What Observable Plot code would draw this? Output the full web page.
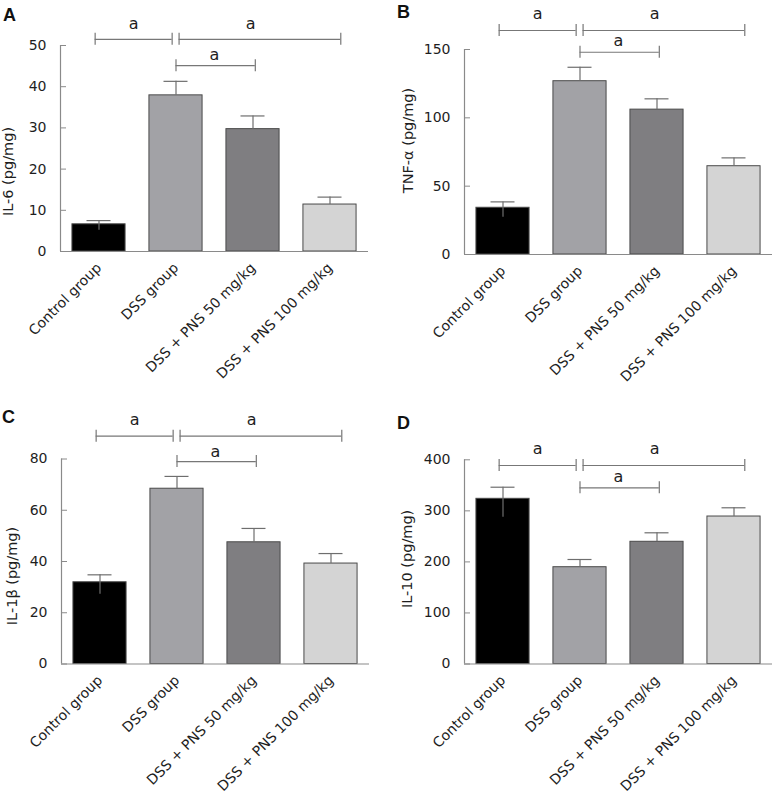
<!DOCTYPE html>
<html><head><meta charset="utf-8">
<script src="https://cdn.jsdelivr.net/npm/d3@7"></script>
<script src="https://cdn.jsdelivr.net/npm/@observablehq/plot@0.6"></script>
<style>
body{margin:0;background:#fff;}
#fig{position:relative;width:774px;height:798px;overflow:hidden;background:#fff;}
.panel{position:absolute;}
.letter{position:absolute;font-family:"Liberation Sans",Arial,sans-serif;font-weight:bold;font-size:18px;line-height:18px;color:#111;}
</style></head><body><div id="fig"></div>
<script>
const groups = ["Control group", "DSS group", "DSS + PNS 50 mg/kg", "DSS + PNS 100 mg/kg"];
const barColors = ["#000000", "#a2a2a6", "#7f7e81", "#d4d4d4"];

// IL-6
const il6Mean = [6.6, 37.9, 29.7, 11.4];
const il6Sem  = [0.9, 3.4, 3.2, 1.8];
const il6Ticks = [0, 10, 20, 30, 40, 50];
const il6BracketY = [51.5, 51.5, 45.1];
const il6MarkY = [55.3, 55.3, 47.7];

// TNF-alpha
const tnfMean = [34.2, 126.8, 106.0, 64.6];
const tnfSem  = [4.3, 10.2, 7.9, 6.1];
const tnfTicks = [0, 50, 100, 150];
const tnfBracketY = [163.9, 163.9, 148.0];
const tnfMarkY = [176.1, 176.1, 156.5];

// IL-1beta
const il1Mean = [31.9, 68.4, 47.5, 39.2];
const il1Sem  = [2.9, 4.8, 5.4, 3.9];
const il1Ticks = [0, 20, 40, 60, 80];
const il1BracketY = [88.9, 88.9, 79.0];
const il1MarkY = [95.4, 95.4, 82.7];

// IL-10
const il10Mean = [323.6, 189.6, 239.4, 288.9];
const il10Sem  = [22.7, 15.1, 17.6, 17.1];
const il10Ticks = [0, 100, 200, 300, 400];
const il10BracketY = [388.8, 388.8, 345.2];
const il10MarkY = [421.5, 421.5, 367.3];

// significance brackets (in group-index units) and their labels
const bracketFrom = [-0.05, 1.04, 1.0];
const bracketTo   = [0.95, 3.14, 2.03];
const bracketMarkX = [0.45, 1.97, 1.5];
const bracketMark = ["a", "a", "a"];

const panels = [
  {letter: "A", label: "IL-6 (pg/mg)", mean: il6Mean, sem: il6Sem, ticks: il6Ticks, by: il6BracketY, my: il6MarkY,
   left: 0, top: 0, height: 390, mt: 45, mb: 139, ml: 60, mr: 19, ldx: -52, ldy: 23, lx: 3, ly: 5.5},
  {letter: "B", label: "TNF-α (pg/mg)", mean: tnfMean, sem: tnfSem, ticks: tnfTicks, by: tnfBracketY, my: tnfMarkY,
   left: 387, top: 0, height: 390, mt: 49, mb: 136, ml: 77, mr: 2, ldx: -56.5, ldy: -11.5, lx: 397, ly: 3},
  {letter: "C", label: "IL-1β (pg/mg)", mean: il1Mean, sem: il1Sem, ticks: il1Ticks, by: il1BracketY, my: il1MarkY,
   left: 0, top: 390, height: 408, mt: 68.5, mb: 134.5, ml: 61, mr: 18, ldx: -49, ldy: 14.5, lx: 2, ly: 408},
  {letter: "D", label: "IL-10 (pg/mg)", mean: il10Mean, sem: il10Sem, ticks: il10Ticks, by: il10BracketY, my: il10MarkY,
   left: 387, top: 390, height: 408, mt: 69.3, mb: 134.5, ml: 77, mr: 2, ldx: -57, ldy: -3, lx: 397, ly: 414}
];

const fig = document.getElementById("fig");
const axisGray = "#8a8a8a";
const errGray = "#6e6e6e";

for (const p of panels) {
  const data = groups.map((g, i) => ({i, g, mean: p.mean[i], sem: p.sem[i], color: barColors[i]}));
  const brackets = bracketFrom.map((f, k) => ({x1: f, x2: bracketTo[k], y: p.by[k]}));
  const bracketEnds = brackets.flatMap(b => [{x: b.x1, y: b.y}, {x: b.x2, y: b.y}]);
  const marks = bracketMark.map((t, k) => ({t, x: bracketMarkX[k], y: p.my[k]}));
  const ymax = p.ticks[p.ticks.length - 1];

  const chart = Plot.plot({
    width: 387,
    height: p.height,
    marginLeft: p.ml, marginRight: p.mr, marginTop: p.mt, marginBottom: p.mb,
    x: {domain: [-0.5, 3.5]},
    y: {domain: [0, ymax]},
    color: {type: "identity"},
    style: {fontFamily: "'DejaVu Sans', Verdana, sans-serif", fontSize: "13px", color: "#1e1e1e", background: "white", overflow: "visible"},
    marks: [
      Plot.rectY(data, {x1: d => d.i - 0.345, x2: d => d.i + 0.345, y1: 0, y2: "mean", fill: "color", stroke: "#4a4a4a", strokeWidth: 1}),
      // lower half of the SEM line shows only inside the black control bar
      Plot.ruleX(data, {filter: d => d.i === 0, x: "i", y1: d => d.mean - d.sem * 1.6, y2: "mean", stroke: errGray, strokeWidth: 1.2}),
      Plot.ruleX(data, {x: "i", y1: "mean", y2: d => d.mean + d.sem, stroke: errGray, strokeWidth: 1.2}),
      Plot.ruleY(data, {y: d => d.mean + d.sem, x1: "i", x2: "i", insetLeft: -12, insetRight: -12, stroke: errGray, strokeWidth: 1.2}),
      Plot.ruleY([0], {stroke: axisGray, strokeWidth: 1.2}),
      Plot.ruleX([-0.5], {y1: 0, y2: ymax, stroke: axisGray, strokeWidth: 1.2}),
      Plot.axisY({ticks: p.ticks, tickSize: 0, tickPadding: 14, tickFormat: d => String(d), fontSize: 14, label: null}),
      Plot.axisY({ticks: p.ticks, tickSize: -6, tickPadding: 0, tickFormat: () => "", stroke: axisGray, label: null}),
      Plot.axisX({ticks: [0, 1, 2, 3], tickFormat: i => groups[i], tickRotate: -45, tickSize: 0, tickPadding: 14, fontSize: 14, label: null}),
      Plot.ruleY(brackets, {x1: "x1", x2: "x2", y: "y", stroke: "#777", strokeWidth: 1.2}),
      Plot.ruleX(bracketEnds, {x: "x", y1: "y", y2: "y", insetTop: -6, insetBottom: -6, stroke: "#777", strokeWidth: 1.2}),
      Plot.text(marks, {x: "x", y: "y", text: "t", fontSize: 16, fill: "#1e1e1e"}),
      Plot.text([p.label], {text: d => d, frameAnchor: "left", textAnchor: "middle", rotate: -90, dx: p.ldx, dy: p.ldy, fontSize: 14.5, fill: "#1e1e1e"})
    ]
  });
  const wrap = document.createElement("div");
  wrap.className = "panel";
  wrap.style.left = p.left + "px";
  wrap.style.top = p.top + "px";
  wrap.appendChild(chart);
  fig.appendChild(wrap);

  const L = document.createElement("div");
  L.className = "letter";
  L.textContent = p.letter;
  L.style.left = p.lx + "px";
  L.style.top = p.ly + "px";
  fig.appendChild(L);
}
</script></body></html>
